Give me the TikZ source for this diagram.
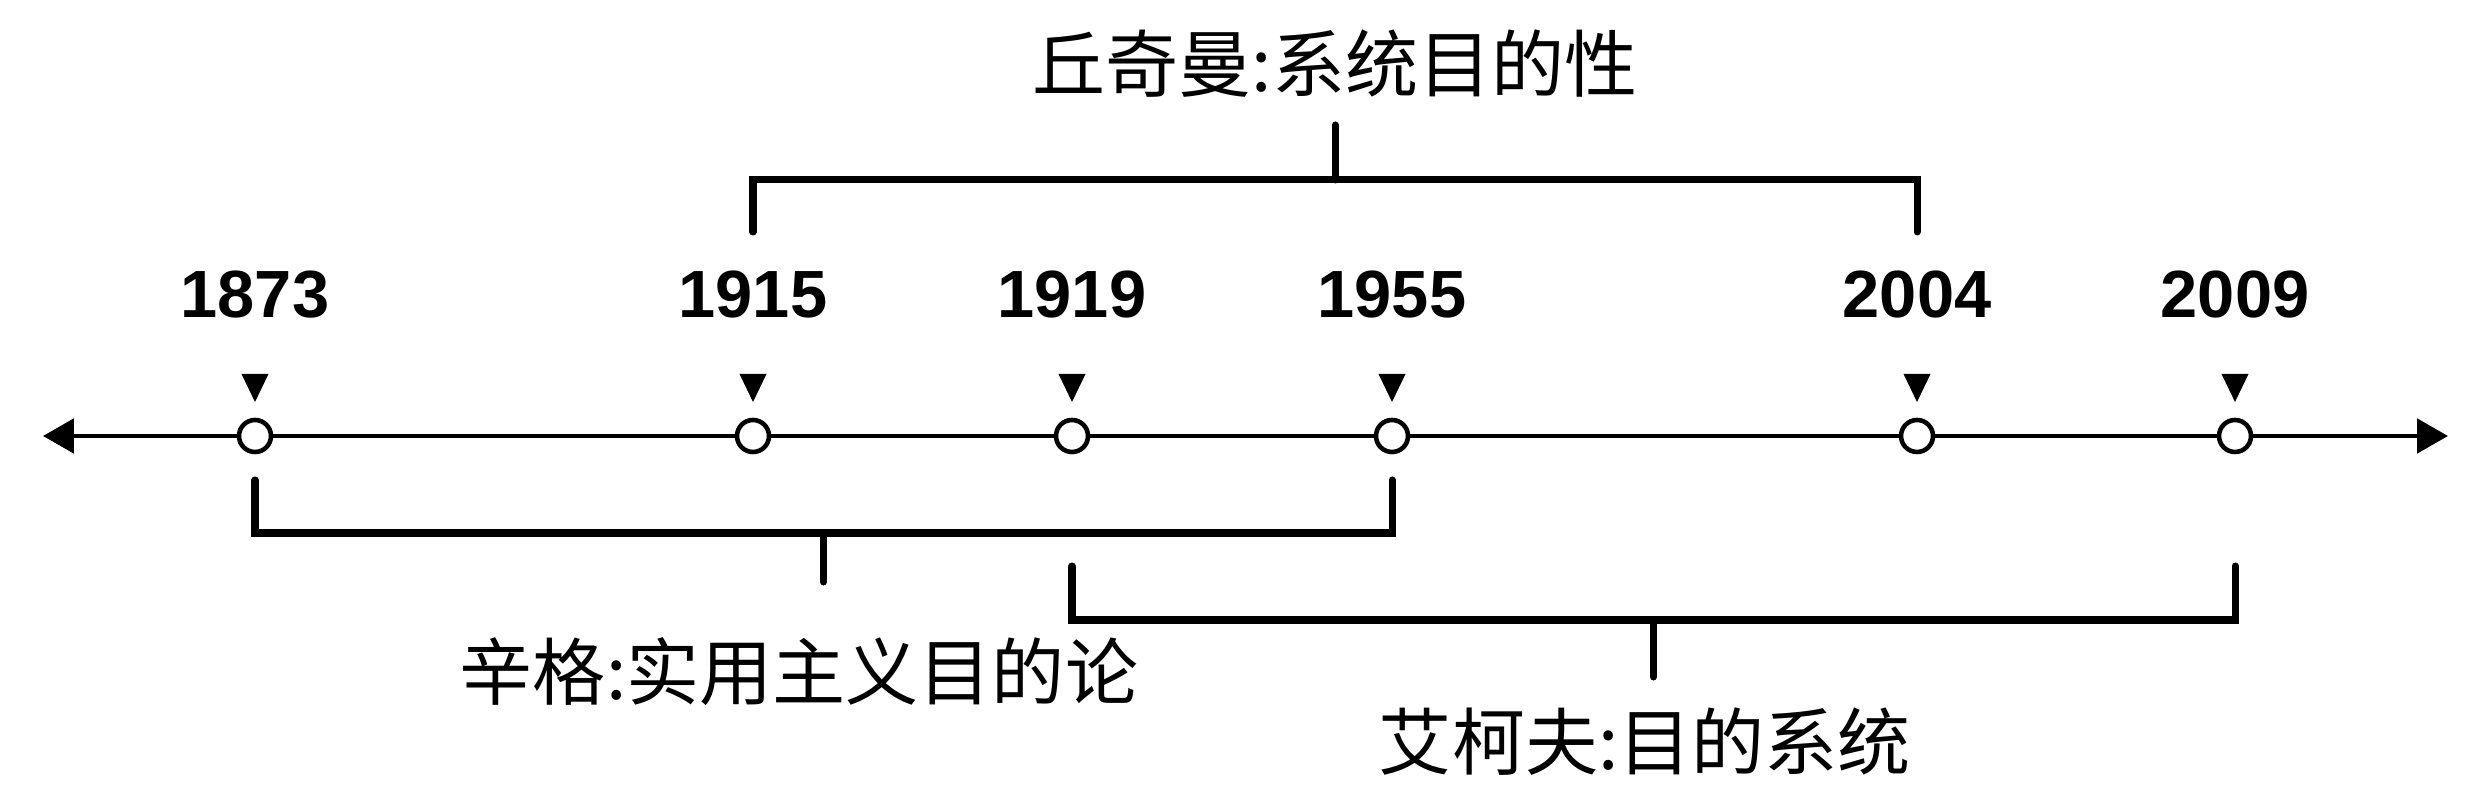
\documentclass[tikz,border=0pt]{standalone}
\usepackage{fontspec}
\setmainfont{Liberation Sans}
\newfontfamily\cjk{Noto Sans CJK SC}
\usetikzlibrary{arrows.meta,calc}
\begin{document}
\begin{tikzpicture}[x=0.1mm,y=-0.1mm,
    yearpt/.style={circle,draw,fill=white,line width=1.3pt,minimum size=3.2mm,inner sep=0pt},
    yearlbl/.style={font=\fontsize{19pt}{22pt}\selectfont\bfseries,inner sep=0pt},
    bracket/.style={line width=2pt,line cap=round},
    cjklbl/.style={font=\cjk\fontsize{20.8pt}{24pt}\selectfont,inner sep=0pt}]
        \useasboundingbox (0,0) rectangle (2480,806);
		\draw[line width=1.3pt,{Triangle[length=8.8pt,width=9.7pt]}-{Triangle[length=8.8pt,width=9.7pt]}] (43,436) coordinate (lend) -- (2448,436) coordinate (rend);
		\foreach \X/\Y in {255/1873,753/1915,1072/1919,1392/1955,1917/2004,2235/2009} {
			\node[yearpt] (p\Y) at (\X,436) {};
			\fill (\X-13.5,374) -- (\X+13.5,374) -- (\X,402) -- cycle;
			\node[yearlbl] (y\Y) at (\X,295) {\Y};}
		% upper bracket
		\coordinate (cmid) at ($(p1915)!0.5!(p2004)$);
		\draw[bracket] (p1915 |- 0,232) -- (p1915 |- 0,180) -- (p2004 |- 0,180) -- (p2004 |- 0,232);
		\draw[bracket] (cmid |- 0,180) -- (cmid |- 0,125);
		\node[cjklbl] (churchman) at (cmid |- 0,64) {丘奇曼:系统目的性};
		% lower brackets
		\coordinate (smid) at ($(p1873)!0.5!(p1955)$);
		\draw[bracket] (p1873 |- 0,480) -- (p1873 |- 0,533) -- (p1955 |- 0,533) -- (p1955 |- 0,480);
		\draw[bracket] (smid |- 0,533) -- (smid |- 0,582);
		\node[cjklbl] (singer) at (799,672) {辛格:实用主义目的论};
		\coordinate (amid) at ($(p1919)!0.5!(p2009)$);
		\draw[bracket] (p1919 |- 0,566) -- (p1919 |- 0,620) -- (p2009 |- 0,620) -- (p2009 |- 0,566);
		\draw[bracket] (amid |- 0,620) -- (amid |- 0,677);
		\node[cjklbl] (ackoff) at (1645,742) {艾柯夫:目的系统};
\end{tikzpicture}
\end{document}
